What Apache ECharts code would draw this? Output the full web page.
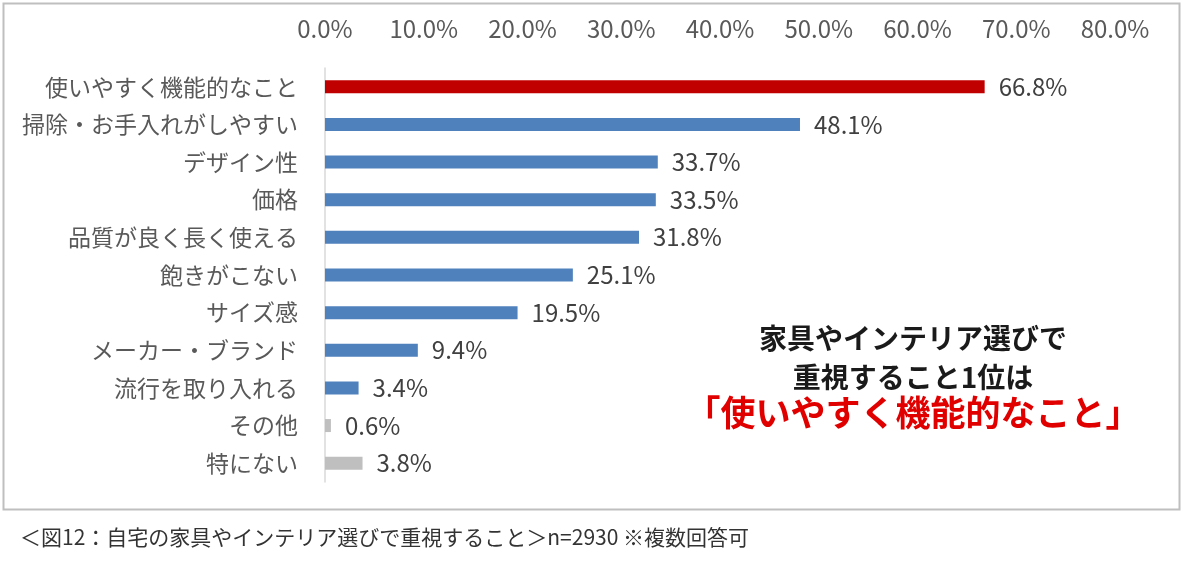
<!DOCTYPE html>
<html lang="ja">
<head>
<meta charset="UTF-8">
<title>自宅の家具やインテリア選びで重視すること</title>
<script src="https://cdn.jsdelivr.net/npm/echarts@6/dist/echarts.min.js"></script>
<style>
  html, body { margin: 0; padding: 0; background: #fff; }
  #chart { width: 1200px; height: 566px; }
</style>
</head>
<body>
<div id="chart"></div>
<script>
  // 項目と割合(%)
  var categories = ['使いやすく機能的なこと', '掃除・お手入れがしやすい', 'デザイン性', '価格',
    '品質が良く長く使える', '飽きがこない', 'サイズ感', 'メーカー・ブランド',
    '流行を取り入れる', 'その他', '特にない'];
  var values = [66.8, 48.1, 33.7, 33.5, 31.8, 25.1, 19.5, 9.4, 3.4, 0.6, 3.8];
  var xTicks = [0, 10, 20, 30, 40, 50, 60, 70, 80];

  var FONT = '"Noto Sans CJK JP", "Noto Sans", sans-serif';

  function barColor(i) {
    if (i === 0) return '#c00000';
    if (i >= categories.length - 2) return '#bfbfbf';
    return '#4f81bd';
  }

  var chart = echarts.init(document.getElementById('chart'));
  chart.setOption({
    animation: false,
    backgroundColor: '#fff',
    grid: { left: 325, right: 85, top: 68, bottom: 84 },
    xAxis: {
      type: 'value',
      position: 'top',
      min: xTicks[0],
      max: xTicks[xTicks.length - 1],
      interval: 10,
      axisLine: { show: false },
      axisTick: { show: false },
      splitLine: { show: false },
      axisLabel: {
        margin: 27,
        fontSize: 24,
        fontFamily: FONT,
        color: '#595959',
        formatter: function (v) { return v.toFixed(1) + '%'; }
      }
    },
    yAxis: {
      type: 'category',
      inverse: true,
      data: categories,
      axisLine: { show: true, lineStyle: { color: '#d9d9d9', width: 1.5 } },
      axisTick: { show: false },
      axisLabel: {
        margin: 27,
        fontSize: 23,
        fontFamily: FONT,
        color: '#595959'
      }
    },
    series: [{
      type: 'bar',
      data: values.map(function (v, i) {
        return { value: v, itemStyle: { color: barColor(i) } };
      }),
      barWidth: 13,
      label: {
        show: true,
        position: 'right',
        distance: 14,
        fontSize: 24,
        fontFamily: FONT,
        color: '#404040',
        formatter: function (p) { return p.value.toFixed(1) + '%'; }
      }
    }],
    graphic: [
      {
        type: 'rect',
        shape: { x: 3.5, y: 3.5, width: 1176, height: 506 },
        style: { fill: 'none', stroke: '#bfbfbf', lineWidth: 2 },
        silent: true
      },
      {
        type: 'text',
        x: 913, y: 338,
        style: {
          text: '家具やインテリア選びで',
          align: 'center', verticalAlign: 'middle',
          font: 'bold 28px ' + FONT, fill: '#1a1a1a'
        }
      },
      {
        type: 'text',
        x: 913, y: 377,
        style: {
          text: '重視すること1位は',
          align: 'center', verticalAlign: 'middle',
          font: 'bold 28px ' + FONT, fill: '#1a1a1a'
        }
      },
      {
        type: 'text',
        x: 913, y: 413,
        style: {
          text: '「使いやすく機能的なこと」',
          align: 'center', verticalAlign: 'middle',
          font: 'bold 35px ' + FONT, fill: '#e00000'
        }
      },
      {
        type: 'text',
        x: 20, y: 537,
        style: {
          text: '＜図12：自宅の家具やインテリア選びで重視すること＞n=2930 ※複数回答可',
          verticalAlign: 'middle',
          font: '21px ' + FONT, fill: '#333'
        }
      }
    ]
  });
</script>
</body>
</html>
